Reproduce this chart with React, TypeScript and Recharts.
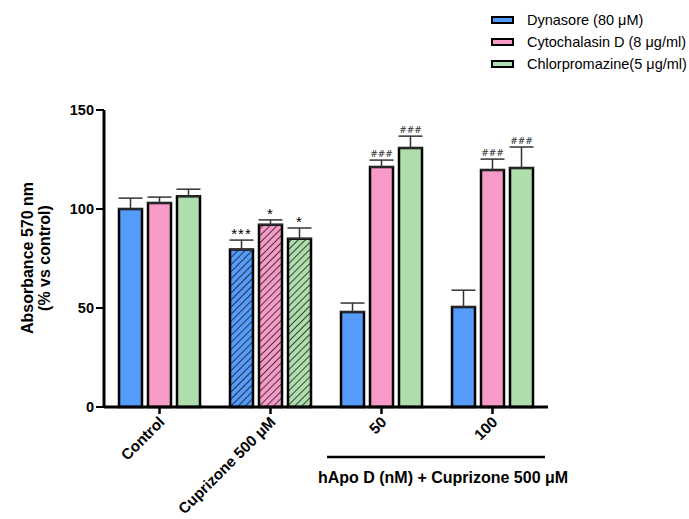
import React from 'react'
import { BarChart, Bar, XAxis, YAxis, ErrorBar, Cell, LabelList } from 'recharts'

const categories = ['Control', 'Cuprizone 500 μM', '50', '100']
const yTicks = [0, 50, 100, 150]

const dynasore = [100, 79.5, 48, 50.5]
const dynasoreErr = [5.5, 4.8, 4.5, 8.5]
const dynasoreSig = ['', '***', '', '']

const cytochalasin = [103, 92, 121.2, 119.7]
const cytochalasinErr = [3, 2.5, 3.5, 5.5]
const cytochalasinSig = ['', '*', '###', '###']

const chlorpromazine = [106.5, 85, 130.8, 120.7]
const chlorpromazineErr = [3.5, 5.4, 6, 10.6]
const chlorpromazineSig = ['', '*', '###', '###']

const hatched = [false, true, false, false]

const series = [
  { key: 'dyn', name: 'Dynasore (80 μM)', color: '#559bf9', pattern: 'hatch-blue' },
  { key: 'cyto', name: 'Cytochalasin D (8 μg/ml)', color: '#f79ac7', pattern: 'hatch-pink' },
  { key: 'chlor', name: 'Chlorpromazine(5 μg/ml)', color: '#aedeab', pattern: 'hatch-green' },
]

const data = categories.map((c, i) => ({
  name: c,
  dyn: dynasore[i],
  dynErr: [0, dynasoreErr[i]],
  dynErrTop: dynasoreErr[i],
  dynSig: dynasoreSig[i],
  cyto: cytochalasin[i],
  cytoErr: [0, cytochalasinErr[i]],
  cytoErrTop: cytochalasinErr[i],
  cytoSig: cytochalasinSig[i],
  chlor: chlorpromazine[i],
  chlorErr: [0, chlorpromazineErr[i]],
  chlorErrTop: chlorpromazineErr[i],
  chlorSig: chlorpromazineSig[i],
}))

const FONT = '"Liberation Sans", Arial, sans-serif'

const XTick = (props: any) => {
  const { x, y, payload } = props
  const ax = x + 6
  const ay = y + 7
  return (
    <text
      x={ax}
      y={ay}
      textAnchor="end"
      transform={`rotate(-45, ${ax}, ${ay})`}
      fontFamily={FONT}
      fontWeight="bold"
      fontSize={15.2}
      fill="#000"
    >
      {payload.value}
    </text>
  )
}

const makeSig = (key: string) => (props: any) => {
  const { x, y, width, height, value, index } = props
  if (!value) return null
  const row: any = data[index]
  const v = row[key]
  const h = height ?? props.viewBox?.height
  const pxPerUnit = h / v
  const top = y - row[key + 'ErrTop'] * pxPerUnit
  const isHash = String(value).startsWith('#')
  return (
    <text
      x={x + width / 2}
      y={top - (isHash ? 3 : 1)}
      textAnchor="middle"
      fontFamily={isHash ? '"DejaVu Serif", serif' : FONT}
      fontSize={isHash ? 9 : 15}
      fill={isHash ? '#333' : '#000'}
      letterSpacing={isHash ? 0 : 1}
    >
      {value}
    </text>
  )
}

const ChartLegend = () => (
  <div
    style={{
      position: 'absolute',
      left: 491,
      top: 9,
      fontFamily: FONT,
      fontSize: 14.5,
      color: '#000',
    }}
  >
    {series.map((s) => (
      <div key={s.key} style={{ display: 'flex', alignItems: 'center', height: 22 }}>
        <span
          style={{
            display: 'inline-block',
            width: 19,
            height: 4,
            background: s.color,
            border: '2.5px solid #000',
            marginRight: 13,
          }}
        />
        <span>{s.name}</span>
      </div>
    ))}
  </div>
)

export default function App() {
  return (
    <div style={{ position: 'absolute', left: 0, top: 0, width: 689, height: 519, background: '#fff' }}>
      <svg width={0} height={0} style={{ position: 'absolute' }}>
        <defs>
          {series.map((s) => (
            <pattern
              key={s.pattern}
              id={s.pattern}
              width={5}
              height={5}
              patternUnits="userSpaceOnUse"
              patternTransform="rotate(45)"
            >
              <rect width={5} height={5} fill={s.color} />
              <line x1={0} y1={0} x2={0} y2={5} stroke="#1a1a1a" strokeWidth={1.6} />
            </pattern>
          ))}
        </defs>
      </svg>
      <BarChart
        width={689}
        height={519}
        data={data}
        margin={{ top: 110, right: 141, bottom: 0, left: 0 }}
        barSize={23}
        barGap={6}
        barCategoryGap={15}
      >
        <XAxis
          dataKey="name"
          height={112}
          tick={<XTick />}
          interval={0}
          axisLine={{ stroke: '#000', strokeWidth: 3 }}
          tickLine={{ stroke: '#000', strokeWidth: 2.5 }}
          tickSize={7}
        />
        <YAxis
          width={104}
          domain={[0, 150]}
          ticks={yTicks}
          interval={0}
          axisLine={{ stroke: '#000', strokeWidth: 3 }}
          tickLine={{ stroke: '#000', strokeWidth: 2 }}
          tickSize={8}
          tickMargin={2}
          tick={{ fill: '#000', fontFamily: FONT, fontWeight: 'bold', fontSize: 14.5 }}
        />
        {series.map((s) => (
          <Bar
            key={s.key}
            dataKey={s.key}
            name={s.name}
            fill={s.color}
            stroke="#000"
            strokeWidth={2.5}
            isAnimationActive={false}
          >
            {data.map((d, i) => (
              <Cell key={i} fill={hatched[i] ? `url(#${s.pattern})` : s.color} />
            ))}
            <ErrorBar dataKey={s.key + 'Err'} direction="y" width={12} stroke="#333" strokeWidth={1.5} />
            <LabelList dataKey={s.key + 'Sig'} content={makeSig(s.key)} />
          </Bar>
        ))}
      </BarChart>
      <ChartLegend />
      <svg
        width={689}
        height={519}
        style={{ position: 'absolute', left: 0, top: 0, pointerEvents: 'none' }}
      >
        <text
          transform="translate(33, 258) rotate(-90)"
          textAnchor="middle"
          fontFamily={FONT}
          fontWeight="bold"
          fontSize={16}
          fill="#000"
        >
          Absorbance 570 nm
        </text>
        <text
          transform="translate(50, 258) rotate(-90)"
          textAnchor="middle"
          fontFamily={FONT}
          fontWeight="bold"
          fontSize={16}
          fill="#000"
        >
          (% vs control)
        </text>
        <line x1={327} y1={457} x2={545} y2={457} stroke="#000" strokeWidth={2.5} />
        <text
          x={443}
          y={483}
          textAnchor="middle"
          fontFamily={FONT}
          fontWeight="bold"
          fontSize={16}
          fill="#000"
        >
          hApo D (nM) + Cuprizone 500 μM
        </text>
      </svg>
    </div>
  )
}
